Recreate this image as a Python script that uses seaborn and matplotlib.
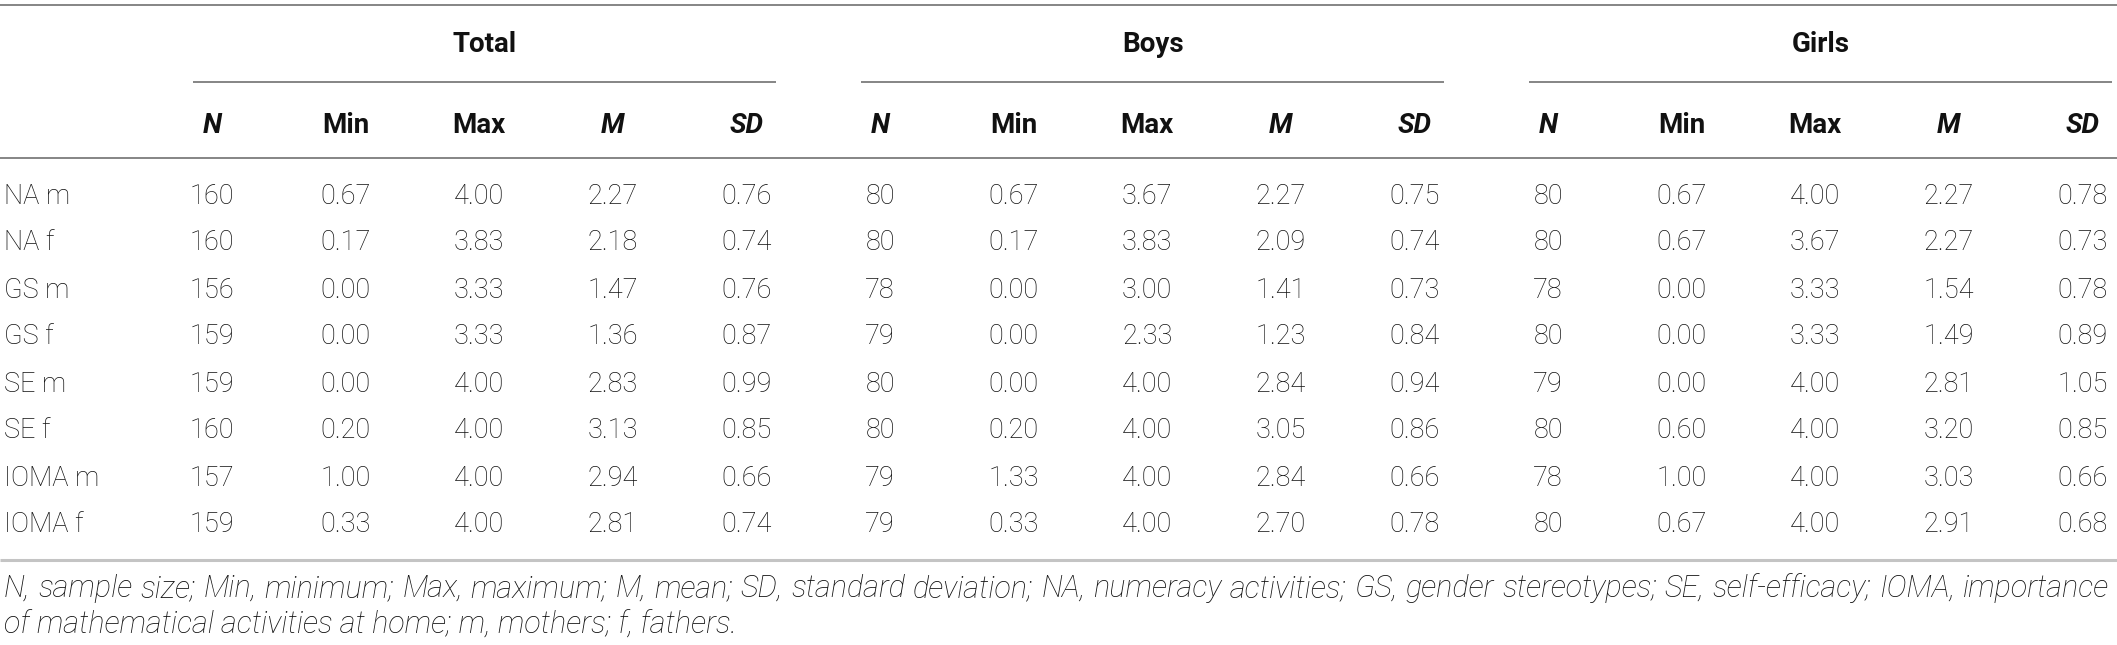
import numpy as np
import pandas as pd
import matplotlib
matplotlib.use("Agg")
import matplotlib.pyplot as plt
from matplotlib.colors import ListedColormap
import seaborn as sns

# ── data ──────────────────────────────────────────────────────────────────────
GROUPS = ["Total", "Boys", "Girls"]
STATS = ["N", "Min", "Max", "M", "SD"]
ROWS = ["NA m", "NA f", "GS m", "GS f", "SE m", "SE f", "IOMA m", "IOMA f"]

total_n = [160, 160, 156, 159, 159, 160, 157, 159]
total_min = [0.67, 0.17, 0.00, 0.00, 0.00, 0.20, 1.00, 0.33]
total_max = [4.00, 3.83, 3.33, 3.33, 4.00, 4.00, 4.00, 4.00]
total_m = [2.27, 2.18, 1.47, 1.36, 2.83, 3.13, 2.94, 2.81]
total_sd = [0.76, 0.74, 0.76, 0.87, 0.99, 0.85, 0.66, 0.74]

boys_n = [80, 80, 78, 79, 80, 80, 79, 79]
boys_min = [0.67, 0.17, 0.00, 0.00, 0.00, 0.20, 1.33, 0.33]
boys_max = [3.67, 3.83, 3.00, 2.33, 4.00, 4.00, 4.00, 4.00]
boys_m = [2.27, 2.09, 1.41, 1.23, 2.84, 3.05, 2.84, 2.70]
boys_sd = [0.75, 0.74, 0.73, 0.84, 0.94, 0.86, 0.66, 0.78]

girls_n = [80, 80, 78, 80, 79, 80, 78, 80]
girls_min = [0.67, 0.67, 0.00, 0.00, 0.00, 0.60, 1.00, 0.67]
girls_max = [4.00, 3.67, 3.33, 3.33, 4.00, 4.00, 4.00, 4.00]
girls_m = [2.27, 2.27, 1.54, 1.49, 2.81, 3.20, 3.03, 2.91]
girls_sd = [0.78, 0.73, 0.78, 0.89, 1.05, 0.85, 0.66, 0.68]

FOOTNOTE_1 = ("N, sample size; Min, minimum; Max, maximum; M, mean; SD, standard deviation; "
              "NA, numeracy activities; GS, gender stereotypes; SE, self-efficacy; IOMA, importance")
FOOTNOTE_2 = "of mathematical activities at home; m, mothers; f, fathers."

# ── table frame ───────────────────────────────────────────────────────────────
cols = {}
for g, block in zip(GROUPS, [
        [total_n, total_min, total_max, total_m, total_sd],
        [boys_n, boys_min, boys_max, boys_m, boys_sd],
        [girls_n, girls_min, girls_max, girls_m, girls_sd]]):
    for s, vals in zip(STATS, block):
        cols[(g, s)] = vals
df = pd.DataFrame(cols, index=ROWS)

labels = df.copy().astype(object)
for c in df.columns:
    if c[1] == "N":
        labels[c] = df[c].map(lambda v: f"{int(v)}")
    else:
        labels[c] = df[c].map(lambda v: f"{v:.2f}")

# ── layout (pixels) ──────────────────────────────────────────────────────────
W, H = 2117, 645
COL0, COL_STEP = 212, 133.6
ROW0, ROW_STEP = 196, 47
Y_TOP, Y_ULINE, Y_HLINE, Y_BOTTOM = 5, 82, 158, 560
Y_GROUP_BASE, Y_HEAD_BASE = 52, 133
Y_FN1_BASE, Y_FN2_BASE = 597, 634
FS_BODY, FS_HEAD, FS_NOTE = 19.5, 20, 22
TEXT = "#111111"
LINE = "#7c7c7c"

sns.set_theme(style="white")
plt.rcParams["font.family"] = ["Roboto", "DejaVu Sans"]

fig = plt.figure(figsize=(W / 100, H / 100), dpi=100)

# body cells through seaborn's heatmap
left = COL0 - COL_STEP / 2
top = ROW0 - ROW_STEP / 2
ax_body = fig.add_axes([left / W, 1 - (top + len(ROWS) * ROW_STEP) / H,
                        df.shape[1] * COL_STEP / W, len(ROWS) * ROW_STEP / H])
sns.heatmap(np.zeros(df.shape), annot=labels.values, fmt="", cbar=False,
            cmap=ListedColormap(["white"]), xticklabels=False, yticklabels=False,
            annot_kws={"fontsize": FS_BODY, "fontweight": "light", "color": TEXT},
            ax=ax_body)
for t in ax_body.texts:
    t.set_clip_on(False)

# overlay for headers, rules and notes
ax = fig.add_axes([0, 0, 1, 1])
ax.set_xlim(0, W)
ax.set_ylim(H, 0)
ax.axis("off")
ax.patch.set_alpha(0)

ax.hlines([Y_TOP, Y_HLINE], 0, W, color=LINE, lw=1.3)
ax.hlines(Y_BOTTOM, 0, W, color="#c4c4c4", lw=2.2)

n_stats = len(STATS)
for gi, g in enumerate(GROUPS):
    x_first = COL0 + gi * n_stats * COL_STEP
    x_last = x_first + (n_stats - 1) * COL_STEP
    x0, x1 = x_first - 19, min(x_last + 30, W - 4)
    ax.hlines(Y_ULINE, x0, x1, color=LINE, lw=1.3)
    ax.text((x0 + x1) / 2, Y_GROUP_BASE, g, ha="center", va="baseline",
            fontsize=FS_HEAD, fontweight="bold", color=TEXT)
    for si, s in enumerate(STATS):
        style = "normal" if s in ("Min", "Max") else "italic"
        ax.text(x_first + si * COL_STEP, Y_HEAD_BASE, s, ha="center", va="baseline",
                fontsize=FS_HEAD, fontweight="bold", fontstyle=style, color=TEXT)

for ri, r in enumerate(ROWS):
    ax.text(4, ROW0 + ri * ROW_STEP, r, ha="left", va="center",
            fontsize=FS_BODY, fontweight="light", color=TEXT)

# footnote: first line justified to the table width, second line ragged
note_kw = dict(va="baseline", fontsize=FS_NOTE, fontstyle="italic",
               fontweight="light", color=TEXT)
words = FOOTNOTE_1.split(" ")
word_texts = [ax.text(0, Y_FN1_BASE, w_, ha="left", **note_kw) for w_ in words]
fig.canvas.draw()
renderer = fig.canvas.get_renderer()
widths = [t.get_window_extent(renderer).width for t in word_texts]
x_start, x_end = 4, W - 8
gap = (x_end - x_start - sum(widths)) / (len(words) - 1)
x = x_start
for t, wd in zip(word_texts, widths):
    t.set_x(x)
    x += wd + gap
ax.text(x_start, Y_FN2_BASE, FOOTNOTE_2, ha="left", **note_kw)

fig.savefig("out.png", dpi=100, facecolor="white")
